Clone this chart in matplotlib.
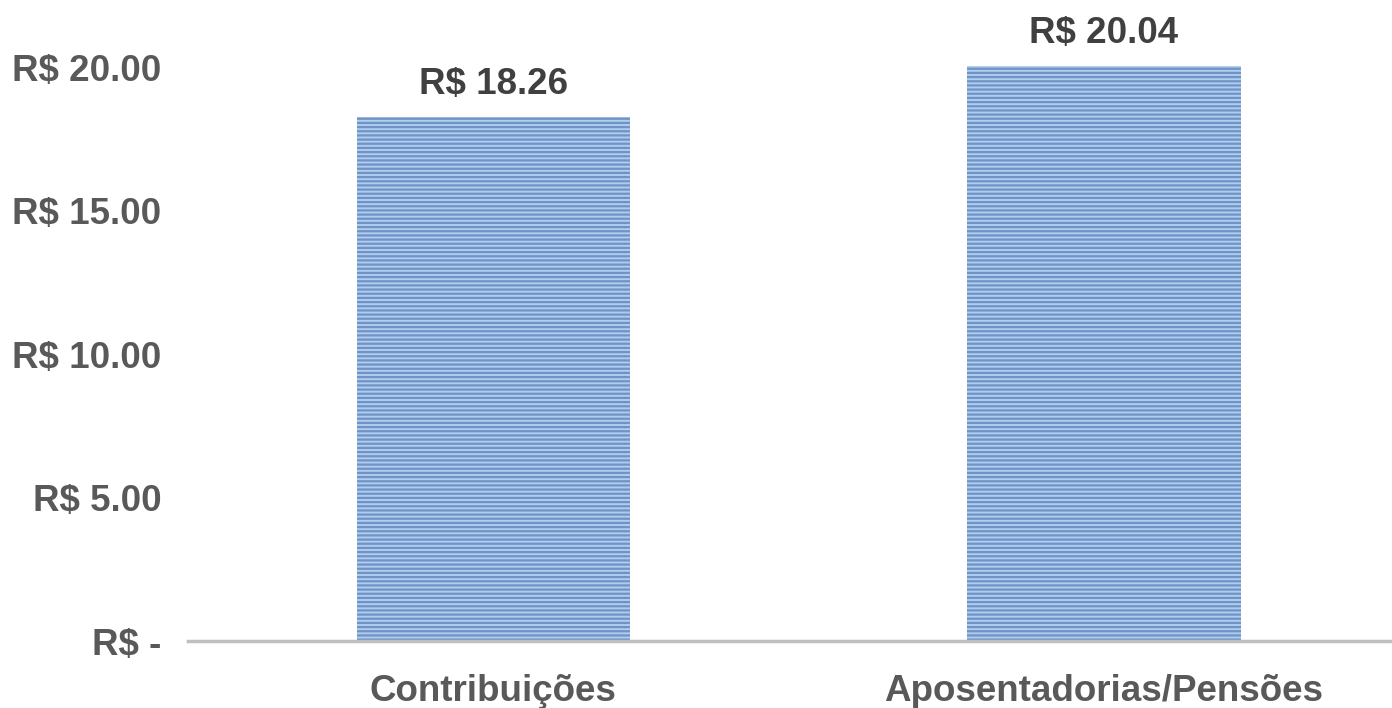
import matplotlib
matplotlib.use("Agg")
import matplotlib.pyplot as plt

categories = ["Contribuições", "Aposentadorias/Pensões"]
values = [18.26, 20.04]
ytick_values = [0, 5, 10, 15, 20]
ytick_labels = ["R$ -", "R$ 5.00", "R$ 10.00", "R$ 15.00", "R$ 20.00"]
value_labels = ["R$ 18.26", "R$ 20.04"]

plt.rcParams['font.family'] = ['Liberation Sans', 'DejaVu Sans']
plt.rcParams['hatch.color'] = '#6f93c6'
plt.rcParams['hatch.linewidth'] = 1.6

fig = plt.figure(figsize=(13.92, 7.08), dpi=100)
ax = fig.add_axes([188/1392, 67/708, 1.0 - 188/1392, (641-10)/708])

x = list(range(len(categories)))
ax.bar(x, values, width=0.448, color='#b0cdee', hatch='----', edgecolor='#6f93c6', linewidth=0, zorder=2)

for xi, v, lab in zip(x, values, value_labels):
    ax.annotate(lab, (xi, v), xytext=(0, 11), textcoords='offset points',
                ha='center', va='bottom', fontsize=26.5, fontweight='bold', color='#404040')

ax.set_xlim(-0.5, 1.472)
ax.set_ylim(0, 22)
ax.set_yticks(ytick_values)
ax.set_yticklabels(ytick_labels)
ax.set_xticks(x)
ax.set_xticklabels(categories)
ax.tick_params(axis='y', length=0, pad=19, labelsize=26.5, labelcolor='#595959')
ax.tick_params(axis='x', length=0, pad=24, labelsize=26.5, labelcolor='#595959')
for lbl in ax.get_xticklabels() + ax.get_yticklabels():
    lbl.set_fontweight('bold')

for s in ['top', 'right', 'left']:
    ax.spines[s].set_visible(False)
ax.spines['bottom'].set_color('#bfbfbf')
ax.spines['bottom'].set_linewidth(2.5)

fig.savefig('out.png', dpi=100)
